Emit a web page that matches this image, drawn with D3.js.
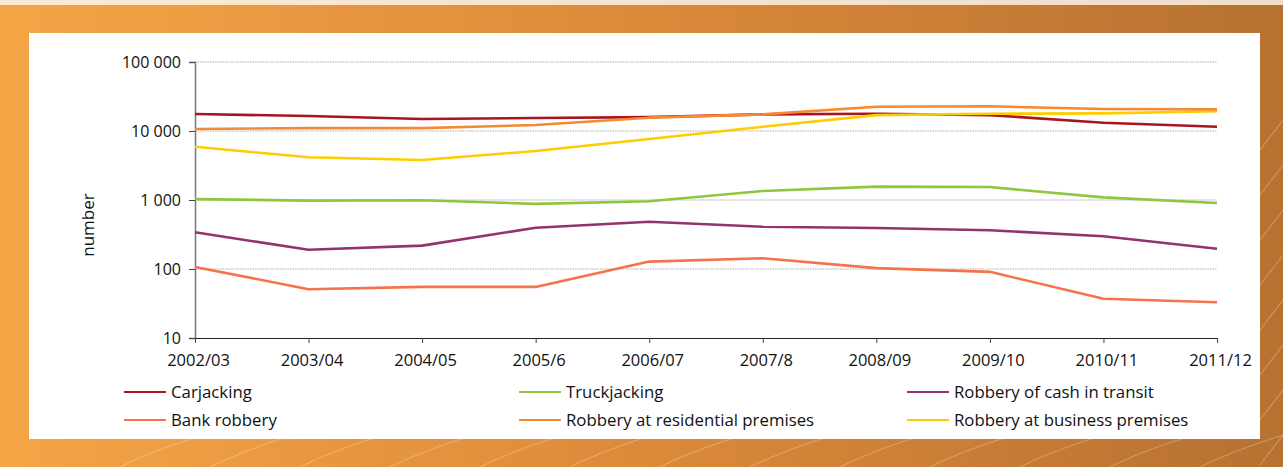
<!doctype html>
<html>
<head>
<meta charset='utf-8'>
<style>
  body { margin:0; background:#fff; }
  svg { display:block; }
  text { font-family: 'Open Sans', sans-serif; fill:#111; }
</style>
</head>
<body>
<div id='chart'></div>
<script src='https://cdn.jsdelivr.net/npm/d3@7/dist/d3.min.js'></script>
<script>

const years = ['2002/03','2003/04','2004/05','2005/6','2006/07','2007/8','2008/09','2009/10','2010/11','2011/12'];

const carjacking   = [17600, 16500, 14900, 15400, 15900, 17400, 17800, 17000, 13200, 11500];
const truckjacking = [1030, 980, 990, 880, 960, 1350, 1560, 1540, 1090, 905];
const cashTransit  = [340, 190, 218, 397, 485, 410, 393, 364, 298, 197];
const bankRobbery  = [107, 51, 55, 55, 128, 143, 103, 91, 37, 33];
const residential  = [10700, 11000, 11000, 12200, 15600, 17400, 22500, 22800, 20800, 20600];
const business     = [5900, 4160, 3800, 5130, 7650, 11500, 17000, 17800, 18000, 19300];

const yTicks = [10, 100, 1000, 10000, 100000];

const series = [
  {name:'Carjacking', values:carjacking, color:'#a8141f'},
  {name:'Truckjacking', values:truckjacking, color:'#8dc63f'},
  {name:'Robbery of cash in transit', values:cashTransit, color:'#93336a'},
  {name:'Bank robbery', values:bankRobbery, color:'#f5734a'},
  {name:'Robbery at residential premises', values:residential, color:'#f68a33'},
  {name:'Robbery at business premises', values:business, color:'#ffcc00'}
];
// drawing order: back to front
const drawOrder = [3, 2, 1, 0, 5, 4];

const W = 1283, H = 467;
const svg = d3.select('#chart').append('svg').attr('width', W).attr('height', H);

// background frame
const defs = svg.append('defs');
const grad = defs.append('linearGradient').attr('id','bg').attr('x1','0').attr('x2','1');
grad.append('stop').attr('offset','0').attr('stop-color','#f4a546');
grad.append('stop').attr('offset','0.5').attr('stop-color','#dc8a3a');
grad.append('stop').attr('offset','1').attr('stop-color','#b77131');
const grad2 = defs.append('linearGradient').attr('id','strip').attr('x1','0').attr('x2','1');
grad2.append('stop').attr('offset','0').attr('stop-color','#fde8d3');
grad2.append('stop').attr('offset','1').attr('stop-color','#efdecb');

svg.append('rect').attr('width', W).attr('height', H).attr('fill','url(#bg)');
svg.append('rect').attr('width', W).attr('height', 5).attr('fill','url(#strip)');

// faint diagonal streaks
const streaks = svg.append('g').attr('stroke','#fff').attr('stroke-opacity',0.25).attr('fill','none');
for (let i = 0; i < 14; i++) {
  const x0 = 120 + i * 90;
  streaks.append('path')
    .attr('d', `M${x0},${H} Q${x0 + 40},${H - 20} ${x0 + 110},${H - 40}`)
    .attr('stroke-width', 1.2);
}
for (let i = 0; i < 8; i++) {
  const y0 = 120 + i * 45;
  streaks.append('path')
    .attr('d', `M1260,${y0 + 30} L1283,${y0}`)
    .attr('stroke-width', 1.2);
}

svg.append('rect').attr('x',29).attr('y',33).attr('width',1231).attr('height',406).attr('fill','#fff');

const m = {l:195, r:1217, t:62, b:338};
const x = d3.scalePoint().domain(years).range([m.l, m.r]);
const y = d3.scaleLog().domain([10, 100000]).range([m.b, m.t]);

// gridlines
svg.append('g').selectAll('line').data(yTicks.slice(1)).join('line')
  .attr('x1', m.l).attr('x2', m.r)
  .attr('y1', d => y(d)).attr('y2', d => y(d))
  .attr('stroke','#aaa').attr('stroke-width',1).attr('stroke-dasharray','1.5,1');

const fmt = d => d3.format(',')(d).replace(/,/g, ' ');

// y axis
const yAxis = svg.append('g').attr('transform', `translate(${m.l},0)`)
  .call(d3.axisLeft(y).tickValues(yTicks).tickFormat(fmt).tickSize(6).tickPadding(8));
yAxis.select('.domain').attr('stroke','#777').attr('stroke-width',1.5);
yAxis.selectAll('.tick line').attr('stroke','#444');
yAxis.selectAll('text').attr('font-size',16).attr('font-family',"'Open Sans', sans-serif").attr('fill','#111');

// x axis
const xAxis = svg.append('g').attr('transform', `translate(0,${m.b})`)
  .call(d3.axisBottom(x).tickSize(5).tickSizeOuter(0).tickPadding(11));
xAxis.select('.domain').attr('stroke','#222').attr('stroke-width',1.2);
xAxis.selectAll('.tick line').attr('stroke','#444');
xAxis.selectAll('text').attr('font-size',16.5).attr('dx',3)
  .attr('font-family',"'Open Sans', sans-serif").attr('fill','#111');

// axis title
svg.append('text').attr('transform','translate(94,225) rotate(-90)')
  .attr('text-anchor','middle').attr('font-size',17).text('number');

// lines
const line = d3.line().x((d, i) => x(years[i])).y(d => y(d));
svg.append('g').selectAll('path').data(drawOrder.map(i => series[i])).join('path')
  .attr('d', d => line(d.values))
  .attr('fill','none').attr('stroke', d => d.color).attr('stroke-width',2.6)
  .attr('stroke-linejoin','round');

// legend
const legCols = [124, 519, 907];
const legRows = [392, 420];
const leg = svg.append('g').selectAll('g').data(series).join('g')
  .attr('transform', (d, i) => `translate(${legCols[i % 3]},${legRows[Math.floor(i / 3)]})`);
leg.append('line').attr('x1',0).attr('x2',42).attr('y1',0).attr('y2',0)
  .attr('stroke', d => d.color).attr('stroke-width',2.2);
leg.append('text').attr('x',47).attr('y',6).attr('font-size',16.8).text(d => d.name);

</script>
</body>
</html>
